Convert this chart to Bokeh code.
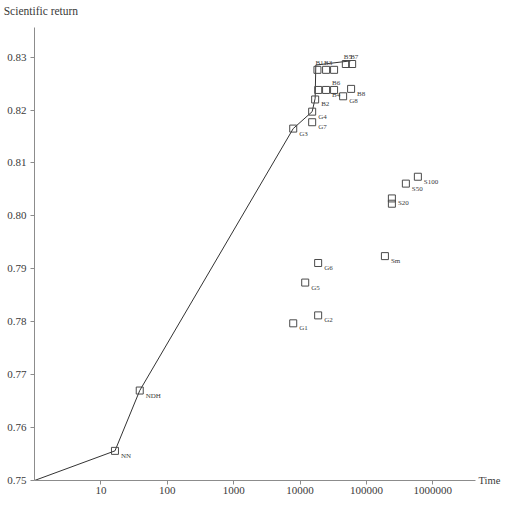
from bokeh.plotting import figure
from bokeh.models import (ColumnDataSource, FixedTicker, LinearAxis, LogAxis,
                          PrintfTickFormatter, Range1d)
from bokeh.core.properties import value
from bokeh.embed import file_html
from bokeh.resources import INLINE

# best return reached so far, against time
front_time = [1, 16.3, 38.5, 7900, 15240, 16900, 17300, 58000]
front_return = [0.75, 0.7556, 0.767, 0.8165, 0.8197, 0.8222, 0.8285, 0.8293]

# individual runs
run_names = ["NN", "NDH", "G3", "G4", "G7", "B2", "B1", "B3", "", "B5", "B7",
             "", "B4", "B6", "G8", "B8", "G1", "G2", "G5", "G6",
             "S100", "S50", "S20", "", "Sm"]
run_time = [16.3, 38.5, 7900, 15240, 15240, 16900, 18300, 24700, 32600, 49000, 61000,
            18800, 24700, 32600, 44600, 58800, 7900, 18750, 11970, 18750,
            596000, 393000, 242000, 242000, 190000]
run_return = [0.7556, 0.767, 0.8165, 0.8197, 0.8177, 0.8220, 0.8276, 0.8276, 0.8276, 0.8287, 0.8287,
              0.8238, 0.8238, 0.8238, 0.8226, 0.8240, 0.7797, 0.7812, 0.7874, 0.7911,
              0.8074, 0.8061, 0.8033, 0.8023, 0.7924]

x_ticks = [10, 100, 1000, 10000, 100000, 1000000]
y_ticks = [0.75, 0.76, 0.77, 0.78, 0.79, 0.80, 0.81, 0.82, 0.83]

# labels that sit above their square instead of to the lower right
above = {"B1", "B3", "B5", "B7", "B6"}

serif = "Liberation Serif"
ink = "#3a3a3a"
axis_grey = "#8c8c8c"

p = figure(width=503, height=496, x_axis_type="log",
           x_range=Range1d(1, 4.4e6), y_range=Range1d(0.75, 0.8356),
           output_backend="svg", toolbar_location=None,
           min_border_left=34, min_border_right=20, min_border_top=27, min_border_bottom=16)
p.outline_line_color = None
p.xgrid.grid_line_color = None
p.ygrid.grid_line_color = None

for ax in (p.xaxis[0], p.yaxis[0]):
    ax.axis_line_color = axis_grey
    ax.major_tick_line_color = axis_grey
    ax.major_tick_out = 4
    ax.major_tick_in = 0
    ax.minor_tick_line_color = None
    ax.major_label_text_font = serif
    ax.major_label_text_font_size = "11px"
    ax.major_label_text_color = ink
p.xaxis.major_label_standoff = 2
p.yaxis.major_label_standoff = 4

p.xaxis.ticker = FixedTicker(ticks=x_ticks)
p.xaxis.formatter = PrintfTickFormatter(format="%d")
p.yaxis.ticker = FixedTicker(ticks=y_ticks)
p.yaxis.formatter = PrintfTickFormatter(format="%.2f")

# axis names: "Scientific return" over the y axis, "Time" at the end of the x axis
top = LogAxis(ticker=FixedTicker(ticks=[1]), major_label_overrides={1: "Scientific return"})
side = LinearAxis(ticker=FixedTicker(ticks=[0.75]), major_label_overrides={0.75: "Time"})
for ax in (top, side):
    ax.axis_line_color = None
    ax.major_tick_line_color = None
    ax.minor_tick_line_color = None
    ax.major_tick_out = 0
    ax.major_tick_in = 0
    ax.major_label_text_font = serif
    ax.major_label_text_color = ink
top.major_label_text_font_size = "11.5px"
side.major_label_text_font_size = "10.5px"
top.major_label_standoff = 11
side.major_label_standoff = 3
p.add_layout(top, "above")
p.add_layout(side, "right")

p.line(front_time, front_return, line_color="#333333", line_width=1)

dx = [-2 if n in above else 6 for n in run_names]
dy = [-7 if n in above else 5 for n in run_names]
src = ColumnDataSource(dict(t=run_time, r=run_return, name=run_names, dx=dx, dy=dy))
p.scatter(x="t", y="r", source=src, marker="square", size=7,
          fill_color=None, line_color="#4a4a4a", line_width=1)
p.text(x="t", y="r", text="name", source=src, x_offset="dx", y_offset="dy",
       text_font=value(serif), text_font_size="7px", text_color=ink,
       text_baseline="middle", text_align="left")

open("out.html", "w").write(file_html(p, INLINE))
